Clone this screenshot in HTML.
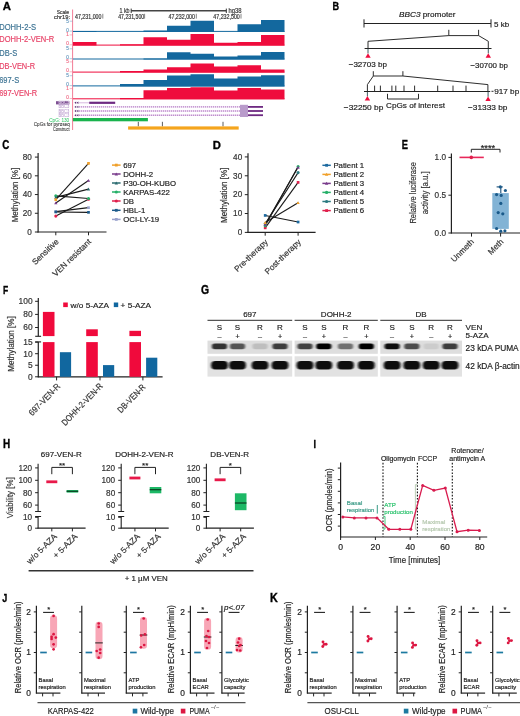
<!DOCTYPE html>
<html><head><meta charset="utf-8"><style>
html,body{margin:0;padding:0;background:#fff;}
svg{display:block;font-family:"Liberation Sans", sans-serif;filter:blur(0.4px);}
</style></head><body>
<svg width="520" height="716" viewBox="0 0 520 716">
<rect width="520" height="716" fill="#fff"/>
<text x="2.80" y="9.50" font-size="11.63" font-weight="bold" fill="#000" stroke="#000" stroke-width="0.35" textLength="8.20" lengthAdjust="spacingAndGlyphs">A</text>
<text x="69.00" y="13.54" font-size="6.2" fill="#333" stroke="#333" stroke-width="0.18" text-anchor="end" textLength="12.30" lengthAdjust="spacingAndGlyphs" >Scale</text>
<text x="70.00" y="18.64" font-size="6.2" fill="#333" stroke="#333" stroke-width="0.18" text-anchor="end" textLength="16.00" lengthAdjust="spacingAndGlyphs" >chr19:</text>
<line x1="72.60" y1="9.50" x2="72.60" y2="130.00" stroke="#f27d97" stroke-width="1" />
<text x="75.00" y="18.51" font-size="6.4" fill="#333" stroke="#333" stroke-width="0.18" textLength="26.50" lengthAdjust="spacingAndGlyphs" >47,231,000</text>
<line x1="102.80" y1="13.80" x2="102.80" y2="18.60" stroke="#333" stroke-width="0.6" />
<text x="118.20" y="18.51" font-size="6.4" fill="#333" stroke="#333" stroke-width="0.18" textLength="26.00" lengthAdjust="spacingAndGlyphs" >47,231,500</text>
<line x1="144.60" y1="13.80" x2="144.60" y2="18.60" stroke="#333" stroke-width="0.6" />
<text x="168.50" y="18.51" font-size="6.4" fill="#333" stroke="#333" stroke-width="0.18" textLength="26.50" lengthAdjust="spacingAndGlyphs" >47,232,000</text>
<line x1="196.30" y1="13.80" x2="196.30" y2="18.60" stroke="#333" stroke-width="0.6" />
<text x="213.30" y="18.51" font-size="6.4" fill="#333" stroke="#333" stroke-width="0.18" textLength="26.50" lengthAdjust="spacingAndGlyphs" >47,232,500</text>
<line x1="241.00" y1="13.80" x2="241.00" y2="18.60" stroke="#333" stroke-width="0.6" />
<text x="129.60" y="12.81" font-size="6.4" fill="#333" stroke="#333" stroke-width="0.18" text-anchor="end" textLength="10.20" lengthAdjust="spacingAndGlyphs" >1 kb</text>
<line x1="131.20" y1="10.80" x2="226.30" y2="10.80" stroke="#444" stroke-width="1.4" />
<line x1="131.20" y1="8.60" x2="131.20" y2="13.00" stroke="#333" stroke-width="1" />
<line x1="226.30" y1="8.60" x2="226.30" y2="13.00" stroke="#333" stroke-width="1" />
<text x="228.50" y="12.81" font-size="6.4" fill="#333" stroke="#333" stroke-width="0.18" textLength="13.00" lengthAdjust="spacingAndGlyphs" >hg38</text>
<text x="-0.80" y="29.60" font-size="8.4" fill="#3f7595" stroke="#3f7595" stroke-width="0.18" textLength="36.80" lengthAdjust="spacingAndGlyphs" >DOHH-2-S</text>
<line x1="73.00" y1="31.40" x2="284.50" y2="31.40" stroke="#13689e" stroke-width="1" />
<path d="M73.00,31.90 L73.00,31.00 L96.50,31.00 L96.50,31.90 L120.00,31.90 L120.00,31.90 L143.50,31.90 L143.50,30.40 L167.00,30.40 L167.00,25.80 L190.50,25.80 L190.50,20.80 L214.00,20.80 L214.00,31.90 L237.50,31.90 L237.50,24.20 L261.00,24.20 L261.00,20.10 L284.50,20.10 L284.50,31.90 Z" fill="#13689e" stroke="none" stroke-width="1" />
<text x="68.80" y="22.79" font-size="4.6" fill="#6a9cc0" stroke="#6a9cc0" stroke-width="0.18" text-anchor="end" >5</text>
<text x="68.80" y="31.69" font-size="4.6" fill="#6a9cc0" stroke="#6a9cc0" stroke-width="0.18" text-anchor="end" >0</text>
<line x1="69.60" y1="21.20" x2="72.60" y2="21.20" stroke="#6a9cc0" stroke-width="0.5" />
<line x1="69.60" y1="31.10" x2="72.60" y2="31.10" stroke="#6a9cc0" stroke-width="0.5" />
<text x="-0.80" y="42.30" font-size="8.4" fill="#e8466a" stroke="#e8466a" stroke-width="0.18" textLength="55.00" lengthAdjust="spacingAndGlyphs" >DOHH-2-VEN-R</text>
<line x1="73.00" y1="45.10" x2="284.50" y2="45.10" stroke="#ef0c3d" stroke-width="1" />
<path d="M73.00,45.60 L73.00,42.00 L96.50,42.00 L96.50,45.60 L120.00,45.60 L120.00,44.20 L143.50,44.20 L143.50,37.20 L167.00,37.20 L167.00,39.80 L190.50,39.80 L190.50,34.00 L214.00,34.00 L214.00,42.70 L237.50,42.70 L237.50,41.90 L261.00,41.90 L261.00,35.10 L284.50,35.10 L284.50,45.60 Z" fill="#ef0c3d" stroke="none" stroke-width="1" />
<text x="68.80" y="36.49" font-size="4.6" fill="#f0708a" stroke="#f0708a" stroke-width="0.18" text-anchor="end" >1</text>
<text x="68.80" y="45.39" font-size="4.6" fill="#f0708a" stroke="#f0708a" stroke-width="0.18" text-anchor="end" >0</text>
<line x1="69.60" y1="34.90" x2="72.60" y2="34.90" stroke="#f0708a" stroke-width="0.5" />
<line x1="69.60" y1="44.80" x2="72.60" y2="44.80" stroke="#f0708a" stroke-width="0.5" />
<text x="-0.80" y="55.70" font-size="8.4" fill="#3f7595" stroke="#3f7595" stroke-width="0.18" textLength="18.00" lengthAdjust="spacingAndGlyphs" >DB-S</text>
<line x1="73.00" y1="59.00" x2="284.50" y2="59.00" stroke="#13689e" stroke-width="1" />
<path d="M73.00,59.50 L73.00,59.50 L96.50,59.50 L96.50,59.50 L120.00,59.50 L120.00,59.50 L143.50,59.50 L143.50,58.50 L167.00,58.50 L167.00,52.30 L190.50,52.30 L190.50,53.80 L214.00,53.80 L214.00,56.50 L237.50,56.50 L237.50,55.50 L261.00,55.50 L261.00,51.90 L284.50,51.90 L284.50,59.50 Z" fill="#13689e" stroke="none" stroke-width="1" />
<text x="68.80" y="50.39" font-size="4.6" fill="#6a9cc0" stroke="#6a9cc0" stroke-width="0.18" text-anchor="end" >5</text>
<text x="68.80" y="59.29" font-size="4.6" fill="#6a9cc0" stroke="#6a9cc0" stroke-width="0.18" text-anchor="end" >0</text>
<line x1="69.60" y1="48.80" x2="72.60" y2="48.80" stroke="#6a9cc0" stroke-width="0.5" />
<line x1="69.60" y1="58.70" x2="72.60" y2="58.70" stroke="#6a9cc0" stroke-width="0.5" />
<text x="-0.80" y="69.00" font-size="8.4" fill="#e8466a" stroke="#e8466a" stroke-width="0.18" textLength="35.80" lengthAdjust="spacingAndGlyphs" >DB-VEN-R</text>
<line x1="73.00" y1="72.10" x2="284.50" y2="72.10" stroke="#ef0c3d" stroke-width="1" />
<path d="M73.00,72.60 L73.00,72.60 L96.50,72.60 L96.50,72.60 L120.00,72.60 L120.00,71.00 L143.50,71.00 L143.50,69.50 L167.00,69.50 L167.00,67.20 L190.50,67.20 L190.50,63.40 L214.00,63.40 L214.00,66.50 L237.50,66.50 L237.50,65.30 L261.00,65.30 L261.00,69.40 L284.50,69.40 L284.50,72.60 Z" fill="#ef0c3d" stroke="none" stroke-width="1" />
<text x="68.80" y="63.49" font-size="4.6" fill="#f0708a" stroke="#f0708a" stroke-width="0.18" text-anchor="end" >5</text>
<text x="68.80" y="72.39" font-size="4.6" fill="#f0708a" stroke="#f0708a" stroke-width="0.18" text-anchor="end" >0</text>
<line x1="69.60" y1="61.90" x2="72.60" y2="61.90" stroke="#f0708a" stroke-width="0.5" />
<line x1="69.60" y1="71.80" x2="72.60" y2="71.80" stroke="#f0708a" stroke-width="0.5" />
<text x="-0.80" y="82.60" font-size="8.4" fill="#3f7595" stroke="#3f7595" stroke-width="0.18" textLength="20.00" lengthAdjust="spacingAndGlyphs" >697-S</text>
<line x1="73.00" y1="85.90" x2="284.50" y2="85.90" stroke="#13689e" stroke-width="1" />
<path d="M73.00,86.40 L73.00,86.40 L96.50,86.40 L96.50,86.40 L120.00,86.40 L120.00,84.00 L143.50,84.00 L143.50,80.00 L167.00,80.00 L167.00,75.50 L190.50,75.50 L190.50,74.30 L214.00,74.30 L214.00,78.40 L237.50,78.40 L237.50,76.60 L261.00,76.60 L261.00,75.30 L284.50,75.30 L284.50,86.40 Z" fill="#13689e" stroke="none" stroke-width="1" />
<text x="68.80" y="77.29" font-size="4.6" fill="#6a9cc0" stroke="#6a9cc0" stroke-width="0.18" text-anchor="end" >5</text>
<text x="68.80" y="86.19" font-size="4.6" fill="#6a9cc0" stroke="#6a9cc0" stroke-width="0.18" text-anchor="end" >0</text>
<line x1="69.60" y1="75.70" x2="72.60" y2="75.70" stroke="#6a9cc0" stroke-width="0.5" />
<line x1="69.60" y1="85.60" x2="72.60" y2="85.60" stroke="#6a9cc0" stroke-width="0.5" />
<text x="-0.80" y="96.20" font-size="8.4" fill="#e8466a" stroke="#e8466a" stroke-width="0.18" textLength="38.00" lengthAdjust="spacingAndGlyphs" >697-VEN-R</text>
<line x1="73.00" y1="98.80" x2="284.50" y2="98.80" stroke="#ef0c3d" stroke-width="1" />
<path d="M73.00,99.30 L73.00,99.30 L96.50,99.30 L96.50,99.30 L120.00,99.30 L120.00,97.90 L143.50,97.90 L143.50,90.20 L167.00,90.20 L167.00,88.00 L190.50,88.00 L190.50,87.30 L214.00,87.30 L214.00,90.60 L237.50,90.60 L237.50,88.00 L261.00,88.00 L261.00,89.40 L284.50,89.40 L284.50,99.30 Z" fill="#ef0c3d" stroke="none" stroke-width="1" />
<text x="68.80" y="90.19" font-size="4.6" fill="#f0708a" stroke="#f0708a" stroke-width="0.18" text-anchor="end" >1</text>
<text x="68.80" y="99.09" font-size="4.6" fill="#f0708a" stroke="#f0708a" stroke-width="0.18" text-anchor="end" >0</text>
<line x1="69.60" y1="88.60" x2="72.60" y2="88.60" stroke="#f0708a" stroke-width="0.5" />
<line x1="69.60" y1="98.50" x2="72.60" y2="98.50" stroke="#f0708a" stroke-width="0.5" />
<rect x="56.00" y="101.20" width="13.40" height="3.20" fill="#7d4f92" />
<text x="69.20" y="104.39" font-size="4.6" fill="#e8dcf0" stroke="#e8dcf0" stroke-width="0.05" text-anchor="end" textLength="10.60" lengthAdjust="spacingAndGlyphs" >BBC3</text>
<path d="M74.4,102.80 L76.2,101.60 L76.2,104.00 Z M76.6,102.80 L78.4,101.60 L78.4,104.00 Z" fill="#5a2a70" stroke="none" stroke-width="1" />
<line x1="79.00" y1="102.80" x2="89.20" y2="102.80" stroke="#d8b8e0" stroke-width="1.0" />
<rect x="89.20" y="101.70" width="26.00" height="2.20" fill="#6e2a82" />
<text x="69.20" y="108.49" font-size="4.6" fill="#b898cc" stroke="#b898cc" stroke-width="0.05" text-anchor="end" textLength="10.60" lengthAdjust="spacingAndGlyphs" >BBC3</text>
<path d="M74.4,106.90 L76.2,105.70 L76.2,108.10 Z M76.6,106.90 L78.4,105.70 L78.4,108.10 Z" fill="#5a2a70" stroke="none" stroke-width="1" />
<line x1="79.00" y1="106.90" x2="240.00" y2="106.90" stroke="#ecd0f0" stroke-width="1.4" />
<line x1="79.00" y1="106.90" x2="240.00" y2="106.90" stroke="#a878bc" stroke-width="1.0" stroke-dasharray="1.0 1.0"/>
<rect x="248.00" y="106.00" width="15.00" height="1.80" fill="#6e2a82" />
<text x="69.20" y="112.59" font-size="4.6" fill="#b898cc" stroke="#b898cc" stroke-width="0.05" text-anchor="end" textLength="10.60" lengthAdjust="spacingAndGlyphs" >BBC3</text>
<path d="M74.4,111.00 L76.2,109.80 L76.2,112.20 Z M76.6,111.00 L78.4,109.80 L78.4,112.20 Z" fill="#5a2a70" stroke="none" stroke-width="1" />
<line x1="79.00" y1="111.00" x2="240.00" y2="111.00" stroke="#ecd0f0" stroke-width="1.4" />
<line x1="79.00" y1="111.00" x2="240.00" y2="111.00" stroke="#a878bc" stroke-width="1.0" stroke-dasharray="1.0 1.0"/>
<rect x="248.00" y="110.10" width="15.00" height="1.80" fill="#6e2a82" />
<text x="69.20" y="116.79" font-size="4.6" fill="#b898cc" stroke="#b898cc" stroke-width="0.05" text-anchor="end" textLength="10.60" lengthAdjust="spacingAndGlyphs" >BBC3</text>
<path d="M74.4,115.20 L76.2,114.00 L76.2,116.40 Z M76.6,115.20 L78.4,114.00 L78.4,116.40 Z" fill="#5a2a70" stroke="none" stroke-width="1" />
<line x1="79.00" y1="115.20" x2="240.00" y2="115.20" stroke="#ecd0f0" stroke-width="1.4" />
<line x1="79.00" y1="115.20" x2="240.00" y2="115.20" stroke="#a878bc" stroke-width="1.0" stroke-dasharray="1.0 1.0"/>
<rect x="248.00" y="114.30" width="15.00" height="1.80" fill="#6e2a82" />
<rect x="240.00" y="104.80" width="8.00" height="12.20" fill="#b99bcb" />
<text x="69.20" y="121.52" font-size="5.0" fill="#3cc86e" stroke="#3cc86e" stroke-width="0.05" text-anchor="end" textLength="20.00" lengthAdjust="spacingAndGlyphs" >CpG: 130</text>
<rect x="72.90" y="118.00" width="75.00" height="3.30" fill="#19b34d" />
<text x="69.80" y="125.89" font-size="4.9" fill="#333" stroke="#333" stroke-width="0.08" text-anchor="end" textLength="36.00" lengthAdjust="spacingAndGlyphs" >CpGs for pyroseq</text>
<text x="69.50" y="130.92" font-size="5.0" fill="#333" stroke="#333" stroke-width="0.08" text-anchor="end" textLength="16.50" lengthAdjust="spacingAndGlyphs" >Construct</text>
<line x1="138.30" y1="121.80" x2="138.30" y2="126.40" stroke="#333" stroke-width="0.8" />
<line x1="162.40" y1="121.80" x2="162.40" y2="126.40" stroke="#333" stroke-width="0.8" />
<line x1="223.00" y1="121.80" x2="223.00" y2="126.40" stroke="#333" stroke-width="0.8" />
<rect x="128.10" y="126.40" width="110.60" height="3.20" fill="#f5a51d" />
<text x="332.50" y="9.50" font-size="11.63" font-weight="bold" fill="#000" stroke="#000" stroke-width="0.35" textLength="6.60" lengthAdjust="spacingAndGlyphs">B</text>
<text x="399" y="17.1" font-size="8" fill="#222" stroke="#222" stroke-width="0.18" textLength="56.6" lengthAdjust="spacingAndGlyphs"><tspan font-style="italic">BBC3</tspan> promoter</text>
<line x1="364.00" y1="23.50" x2="491.00" y2="23.50" stroke="#222" stroke-width="1.0" />
<line x1="364.00" y1="19.30" x2="364.00" y2="27.50" stroke="#222" stroke-width="1.0" />
<line x1="491.00" y1="19.30" x2="491.00" y2="27.50" stroke="#222" stroke-width="1.0" />
<text x="494.00" y="26.96" font-size="8" fill="#222" stroke="#222" stroke-width="0.18" >5 kb</text>
<line x1="364.60" y1="48.50" x2="491.50" y2="48.50" stroke="#222" stroke-width="1.0" />
<line x1="368.00" y1="48.50" x2="368.00" y2="53.40" stroke="#2a4a50" stroke-width="0.9" />
<line x1="488.30" y1="48.50" x2="488.30" y2="53.40" stroke="#2a4a50" stroke-width="0.9" />
<path d="M368,48.5 L368,41.3 L448.8,35.6 L478.6,35.6 L488.3,41.3 L488.3,48.5" fill="none" stroke="#222" stroke-width="0.95" />
<line x1="448.80" y1="29.80" x2="448.80" y2="35.60" stroke="#222" stroke-width="0.95" />
<line x1="478.60" y1="29.80" x2="478.60" y2="35.60" stroke="#222" stroke-width="0.95" />
<path d="M365.30,57.80 L368.00,53.20 L370.70,57.80 Z" fill="#ef0c3d" stroke="none" stroke-width="1" />
<path d="M485.60,57.80 L488.30,53.20 L491.00,57.80 Z" fill="#ef0c3d" stroke="none" stroke-width="1" />
<text x="348.70" y="67.36" font-size="8" fill="#222" stroke="#222" stroke-width="0.18" textLength="38.30" lengthAdjust="spacingAndGlyphs" >&#8722;32703 bp</text>
<text x="470.40" y="67.76" font-size="8" fill="#222" stroke="#222" stroke-width="0.18" textLength="37.60" lengthAdjust="spacingAndGlyphs" >&#8722;30700 bp</text>
<line x1="373.30" y1="71.20" x2="373.30" y2="76.00" stroke="#222" stroke-width="0.95" />
<line x1="402.90" y1="71.20" x2="402.90" y2="76.00" stroke="#222" stroke-width="0.95" />
<path d="M367.4,91.5 L367.4,84.6 L373.3,76 L402.9,76 L487.9,84.6 L487.9,91.5" fill="none" stroke="#222" stroke-width="0.95" />
<line x1="367.40" y1="91.50" x2="367.40" y2="96.40" stroke="#2a4a50" stroke-width="0.9" />
<line x1="488.10" y1="91.50" x2="488.10" y2="96.80" stroke="#2a4a50" stroke-width="0.9" />
<line x1="364.00" y1="91.50" x2="490.20" y2="91.50" stroke="#222" stroke-width="1.0" />
<line x1="374.60" y1="85.60" x2="374.60" y2="91.30" stroke="#222" stroke-width="0.95" />
<line x1="380.40" y1="85.60" x2="380.40" y2="91.30" stroke="#222" stroke-width="0.95" />
<line x1="391.90" y1="85.60" x2="391.90" y2="91.30" stroke="#222" stroke-width="0.95" />
<line x1="395.80" y1="85.60" x2="395.80" y2="91.30" stroke="#222" stroke-width="0.95" />
<line x1="404.00" y1="85.60" x2="404.00" y2="91.30" stroke="#222" stroke-width="0.95" />
<line x1="414.60" y1="85.60" x2="414.60" y2="91.30" stroke="#222" stroke-width="0.95" />
<line x1="437.70" y1="85.60" x2="437.70" y2="91.30" stroke="#222" stroke-width="0.95" />
<line x1="453.00" y1="85.60" x2="453.00" y2="91.30" stroke="#222" stroke-width="0.95" />
<line x1="466.00" y1="85.60" x2="466.00" y2="91.30" stroke="#222" stroke-width="0.95" />
<line x1="491.50" y1="91.30" x2="493.50" y2="91.30" stroke="#222" stroke-width="0.95" />
<text x="494.20" y="94.06" font-size="8" fill="#222" stroke="#222" stroke-width="0.18" textLength="25.00" lengthAdjust="spacingAndGlyphs" >917 bp</text>
<path d="M364.70,100.40 L367.40,96.00 L370.10,100.40 Z" fill="#ef0c3d" stroke="none" stroke-width="1" />
<path d="M485.40,100.90 L488.10,96.40 L490.80,100.90 Z" fill="#ef0c3d" stroke="none" stroke-width="1" />
<path d="M387.5,93.8 L387.5,99 L418.5,99 L418.5,93.8" fill="none" stroke="#222" stroke-width="0.95" />
<text x="343.80" y="110.46" font-size="8" fill="#222" stroke="#222" stroke-width="0.18" textLength="39.50" lengthAdjust="spacingAndGlyphs" >&#8722;32250 bp</text>
<text x="386.00" y="108.36" font-size="8" fill="#222" stroke="#222" stroke-width="0.18" textLength="59.00" lengthAdjust="spacingAndGlyphs" >CpGs of interest</text>
<text x="468.00" y="110.46" font-size="8" fill="#222" stroke="#222" stroke-width="0.18" textLength="39.50" lengthAdjust="spacingAndGlyphs" >&#8722;31333 bp</text>
<text x="2.20" y="149.00" font-size="11.92" font-weight="bold" fill="#000" stroke="#000" stroke-width="0.35" textLength="7.10" lengthAdjust="spacingAndGlyphs">C</text>
<line x1="38.10" y1="153.10" x2="38.10" y2="232.50" stroke="#222" stroke-width="1.2" />
<line x1="37.60" y1="232.00" x2="106.50" y2="232.00" stroke="#222" stroke-width="1.2" />
<line x1="34.90" y1="232.00" x2="38.10" y2="232.00" stroke="#222" stroke-width="1" />
<text x="31.80" y="234.83" font-size="8.2" fill="#333" stroke="#333" stroke-width="0.18" text-anchor="end" >0</text>
<line x1="34.90" y1="213.27" x2="38.10" y2="213.27" stroke="#222" stroke-width="1" />
<text x="31.80" y="216.10" font-size="8.2" fill="#333" stroke="#333" stroke-width="0.18" text-anchor="end" >20</text>
<line x1="34.90" y1="194.55" x2="38.10" y2="194.55" stroke="#222" stroke-width="1" />
<text x="31.80" y="197.38" font-size="8.2" fill="#333" stroke="#333" stroke-width="0.18" text-anchor="end" >40</text>
<line x1="34.90" y1="175.82" x2="38.10" y2="175.82" stroke="#222" stroke-width="1" />
<text x="31.80" y="178.65" font-size="8.2" fill="#333" stroke="#333" stroke-width="0.18" text-anchor="end" >60</text>
<line x1="34.90" y1="157.10" x2="38.10" y2="157.10" stroke="#222" stroke-width="1" />
<text x="31.80" y="159.93" font-size="8.2" fill="#333" stroke="#333" stroke-width="0.18" text-anchor="end" >80</text>
<line x1="55.80" y1="232.00" x2="55.80" y2="235.30" stroke="#222" stroke-width="1" />
<line x1="88.50" y1="232.00" x2="88.50" y2="235.30" stroke="#222" stroke-width="1" />
<text x="14.60" y="197.97" font-size="8.6" fill="#333" stroke="#333" stroke-width="0.18" text-anchor="middle" textLength="54.70" lengthAdjust="spacingAndGlyphs" transform="rotate(-90 14.60 195.00)" >Methylation [%]</text>
<text x="57.30" y="243.03" font-size="8.2" fill="#333" stroke="#333" stroke-width="0.18" text-anchor="end" transform="rotate(-44 57.30 240.20)" >Sensitive</text>
<text x="89.80" y="243.03" font-size="8.2" fill="#333" stroke="#333" stroke-width="0.18" text-anchor="end" transform="rotate(-44 89.80 240.20)" >VEN resistant</text>
<line x1="55.80" y1="199.70" x2="88.50" y2="163.37" stroke="#1a1a1a" stroke-width="1.1" />
<line x1="55.80" y1="202.97" x2="88.50" y2="180.50" stroke="#1a1a1a" stroke-width="1.1" />
<line x1="55.80" y1="197.36" x2="88.50" y2="189.12" stroke="#1a1a1a" stroke-width="1.1" />
<line x1="55.80" y1="195.86" x2="88.50" y2="198.48" stroke="#1a1a1a" stroke-width="1.1" />
<line x1="55.80" y1="216.08" x2="88.50" y2="199.23" stroke="#1a1a1a" stroke-width="1.1" />
<line x1="55.80" y1="211.96" x2="88.50" y2="212.34" stroke="#1a1a1a" stroke-width="1.1" />
<line x1="55.80" y1="211.59" x2="88.50" y2="207.66" stroke="#1a1a1a" stroke-width="1.1" />
<rect x="54.45" y="210.24" width="2.70" height="2.70" fill="#9aa2cc" />
<rect x="87.15" y="206.31" width="2.70" height="2.70" fill="#9aa2cc" />
<rect x="54.45" y="210.61" width="2.70" height="2.70" fill="#1d5b8a" />
<rect x="87.15" y="210.99" width="2.70" height="2.70" fill="#1d5b8a" />
<circle cx="55.80" cy="216.08" r="1.55" fill="#e0204c" />
<circle cx="88.50" cy="199.23" r="1.55" fill="#e0204c" />
<circle cx="55.80" cy="195.86" r="1.55" fill="#26b069" />
<circle cx="88.50" cy="198.48" r="1.55" fill="#26b069" />
<path d="M54.15,198.71 L55.80,195.81 L57.45,198.71 Z" fill="#2b6b70" stroke="none" stroke-width="1" />
<path d="M86.85,190.47 L88.50,187.57 L90.15,190.47 Z" fill="#2b6b70" stroke="none" stroke-width="1" />
<path d="M54.15,204.32 L55.80,201.42 L57.45,204.32 Z" fill="#7a3c8c" stroke="none" stroke-width="1" />
<path d="M86.85,181.85 L88.50,178.95 L90.15,181.85 Z" fill="#7a3c8c" stroke="none" stroke-width="1" />
<rect x="54.45" y="198.35" width="2.70" height="2.70" fill="#f0a02a" />
<rect x="87.15" y="162.02" width="2.70" height="2.70" fill="#f0a02a" />
<line x1="112.00" y1="165.10" x2="120.60" y2="165.10" stroke="#f0a02a" stroke-width="1.5" />
<rect x="114.90" y="163.70" width="2.80" height="2.80" fill="#f0a02a" />
<text x="123.20" y="167.79" font-size="7.8" fill="#222" stroke="#222" stroke-width="0.18" >697</text>
<line x1="112.00" y1="174.00" x2="120.60" y2="174.00" stroke="#7a3c8c" stroke-width="1.5" />
<path d="M114.60,175.40 L116.30,172.40 L118.00,175.40 Z" fill="#7a3c8c" stroke="none" stroke-width="1" />
<text x="123.20" y="176.69" font-size="7.8" fill="#222" stroke="#222" stroke-width="0.18" >DOHH-2</text>
<line x1="112.00" y1="183.00" x2="120.60" y2="183.00" stroke="#2b6b70" stroke-width="1.5" />
<path d="M114.60,184.40 L116.30,181.40 L118.00,184.40 Z" fill="#2b6b70" stroke="none" stroke-width="1" />
<text x="123.20" y="185.69" font-size="7.8" fill="#222" stroke="#222" stroke-width="0.18" >P30-OH-KUBO</text>
<line x1="112.00" y1="192.00" x2="120.60" y2="192.00" stroke="#26b069" stroke-width="1.5" />
<circle cx="116.30" cy="192.00" r="1.5999999999999999" fill="#26b069" />
<text x="123.20" y="194.69" font-size="7.8" fill="#222" stroke="#222" stroke-width="0.18" >KARPAS-422</text>
<line x1="112.00" y1="201.00" x2="120.60" y2="201.00" stroke="#e0204c" stroke-width="1.5" />
<circle cx="116.30" cy="201.00" r="1.5999999999999999" fill="#e0204c" />
<text x="123.20" y="203.69" font-size="7.8" fill="#222" stroke="#222" stroke-width="0.18" >DB</text>
<line x1="112.00" y1="210.30" x2="120.60" y2="210.30" stroke="#1d5b8a" stroke-width="1.5" />
<rect x="114.90" y="208.90" width="2.80" height="2.80" fill="#1d5b8a" />
<text x="123.20" y="212.99" font-size="7.8" fill="#222" stroke="#222" stroke-width="0.18" >HBL-1</text>
<line x1="112.00" y1="219.40" x2="120.60" y2="219.40" stroke="#9aa2cc" stroke-width="1.5" />
<rect x="114.90" y="218.00" width="2.80" height="2.80" fill="#9aa2cc" />
<text x="123.20" y="222.09" font-size="7.8" fill="#222" stroke="#222" stroke-width="0.18" >OCI-LY-19</text>
<text x="212.80" y="149.20" font-size="11.77" font-weight="bold" fill="#000" stroke="#000" stroke-width="0.35" textLength="8.10" lengthAdjust="spacingAndGlyphs">D</text>
<line x1="248.00" y1="153.30" x2="248.00" y2="232.90" stroke="#222" stroke-width="1.2" />
<line x1="247.50" y1="232.40" x2="315.60" y2="232.40" stroke="#222" stroke-width="1.2" />
<line x1="244.80" y1="232.40" x2="248.00" y2="232.40" stroke="#222" stroke-width="1" />
<text x="242.20" y="235.23" font-size="8.2" fill="#333" stroke="#333" stroke-width="0.18" text-anchor="end" >0</text>
<line x1="244.80" y1="213.53" x2="248.00" y2="213.53" stroke="#222" stroke-width="1" />
<text x="242.20" y="216.36" font-size="8.2" fill="#333" stroke="#333" stroke-width="0.18" text-anchor="end" >10</text>
<line x1="244.80" y1="194.66" x2="248.00" y2="194.66" stroke="#222" stroke-width="1" />
<text x="242.20" y="197.49" font-size="8.2" fill="#333" stroke="#333" stroke-width="0.18" text-anchor="end" >20</text>
<line x1="244.80" y1="175.79" x2="248.00" y2="175.79" stroke="#222" stroke-width="1" />
<text x="242.20" y="178.62" font-size="8.2" fill="#333" stroke="#333" stroke-width="0.18" text-anchor="end" >30</text>
<line x1="244.80" y1="156.92" x2="248.00" y2="156.92" stroke="#222" stroke-width="1" />
<text x="242.20" y="159.75" font-size="8.2" fill="#333" stroke="#333" stroke-width="0.18" text-anchor="end" >40</text>
<line x1="265.20" y1="232.40" x2="265.20" y2="235.70" stroke="#222" stroke-width="1" />
<line x1="298.10" y1="232.40" x2="298.10" y2="235.70" stroke="#222" stroke-width="1" />
<text x="224.40" y="198.27" font-size="8.6" fill="#333" stroke="#333" stroke-width="0.18" text-anchor="middle" textLength="55.40" lengthAdjust="spacingAndGlyphs" transform="rotate(-90 224.40 195.30)" >Methylation [%]</text>
<text x="266.40" y="243.33" font-size="8.2" fill="#333" stroke="#333" stroke-width="0.18" text-anchor="end" transform="rotate(-44 266.40 240.50)" >Pre-therapy</text>
<text x="299.40" y="243.33" font-size="8.2" fill="#333" stroke="#333" stroke-width="0.18" text-anchor="end" transform="rotate(-44 299.40 240.50)" >Post-therapy</text>
<line x1="265.20" y1="215.42" x2="298.10" y2="222.02" stroke="#1a1a1a" stroke-width="1.1" />
<line x1="265.20" y1="222.59" x2="298.10" y2="202.77" stroke="#1a1a1a" stroke-width="1.1" />
<line x1="265.20" y1="224.47" x2="298.10" y2="167.30" stroke="#1a1a1a" stroke-width="1.1" />
<line x1="265.20" y1="225.80" x2="298.10" y2="166.54" stroke="#1a1a1a" stroke-width="1.1" />
<line x1="265.20" y1="223.72" x2="298.10" y2="172.58" stroke="#1a1a1a" stroke-width="1.1" />
<line x1="265.20" y1="227.87" x2="298.10" y2="182.39" stroke="#1a1a1a" stroke-width="1.1" />
<rect x="263.85" y="226.52" width="2.70" height="2.70" fill="#e0204c" />
<rect x="296.75" y="181.04" width="2.70" height="2.70" fill="#e0204c" />
<circle cx="265.20" cy="223.72" r="1.55" fill="#2b7a80" />
<circle cx="298.10" cy="172.58" r="1.55" fill="#2b7a80" />
<circle cx="265.20" cy="225.80" r="1.55" fill="#26b069" />
<circle cx="298.10" cy="166.54" r="1.55" fill="#26b069" />
<path d="M263.55,225.82 L265.20,222.92 L266.85,225.82 Z" fill="#7a3c8c" stroke="none" stroke-width="1" />
<path d="M296.45,168.65 L298.10,165.75 L299.75,168.65 Z" fill="#7a3c8c" stroke="none" stroke-width="1" />
<path d="M263.55,223.94 L265.20,221.04 L266.85,223.94 Z" fill="#f0a02a" stroke="none" stroke-width="1" />
<path d="M296.45,204.12 L298.10,201.22 L299.75,204.12 Z" fill="#f0a02a" stroke="none" stroke-width="1" />
<rect x="263.85" y="214.07" width="2.70" height="2.70" fill="#1d6aa0" />
<rect x="296.75" y="220.67" width="2.70" height="2.70" fill="#1d6aa0" />
<line x1="322.40" y1="165.30" x2="330.80" y2="165.30" stroke="#1d6aa0" stroke-width="1.5" />
<rect x="325.20" y="163.90" width="2.80" height="2.80" fill="#1d6aa0" />
<text x="333.40" y="167.99" font-size="7.8" fill="#222" stroke="#222" stroke-width="0.18" >Patient 1</text>
<line x1="322.40" y1="174.40" x2="330.80" y2="174.40" stroke="#f0a02a" stroke-width="1.5" />
<path d="M324.90,175.80 L326.60,172.80 L328.30,175.80 Z" fill="#f0a02a" stroke="none" stroke-width="1" />
<text x="333.40" y="177.09" font-size="7.8" fill="#222" stroke="#222" stroke-width="0.18" >Patient 2</text>
<line x1="322.40" y1="183.40" x2="330.80" y2="183.40" stroke="#7a3c8c" stroke-width="1.5" />
<path d="M324.90,184.80 L326.60,181.80 L328.30,184.80 Z" fill="#7a3c8c" stroke="none" stroke-width="1" />
<text x="333.40" y="186.09" font-size="7.8" fill="#222" stroke="#222" stroke-width="0.18" >Patient 3</text>
<line x1="322.40" y1="192.40" x2="330.80" y2="192.40" stroke="#26b069" stroke-width="1.5" />
<circle cx="326.60" cy="192.40" r="1.5999999999999999" fill="#26b069" />
<text x="333.40" y="195.09" font-size="7.8" fill="#222" stroke="#222" stroke-width="0.18" >Patient 4</text>
<line x1="322.40" y1="201.50" x2="330.80" y2="201.50" stroke="#2b7a80" stroke-width="1.5" />
<circle cx="326.60" cy="201.50" r="1.5999999999999999" fill="#2b7a80" />
<text x="333.40" y="204.19" font-size="7.8" fill="#222" stroke="#222" stroke-width="0.18" >Patient 5</text>
<line x1="322.40" y1="210.60" x2="330.80" y2="210.60" stroke="#e0204c" stroke-width="1.5" />
<rect x="325.20" y="209.20" width="2.80" height="2.80" fill="#e0204c" />
<text x="333.40" y="213.29" font-size="7.8" fill="#222" stroke="#222" stroke-width="0.18" >Patient 6</text>
<text x="401.80" y="149.40" font-size="12.21" font-weight="bold" fill="#000" stroke="#000" stroke-width="0.35" textLength="6.20" lengthAdjust="spacingAndGlyphs">E</text>
<line x1="451.40" y1="153.50" x2="451.40" y2="233.50" stroke="#222" stroke-width="1.2" />
<line x1="450.90" y1="233.00" x2="520.00" y2="233.00" stroke="#222" stroke-width="1.2" />
<line x1="448.40" y1="233.00" x2="451.40" y2="233.00" stroke="#222" stroke-width="1" />
<text x="446.00" y="235.83" font-size="8.2" fill="#333" stroke="#333" stroke-width="0.18" text-anchor="end" >0.0</text>
<line x1="448.40" y1="195.20" x2="451.40" y2="195.20" stroke="#222" stroke-width="1" />
<text x="446.00" y="198.03" font-size="8.2" fill="#333" stroke="#333" stroke-width="0.18" text-anchor="end" >0.5</text>
<line x1="448.40" y1="157.40" x2="451.40" y2="157.40" stroke="#222" stroke-width="1" />
<text x="446.00" y="160.23" font-size="8.2" fill="#333" stroke="#333" stroke-width="0.18" text-anchor="end" >1.0</text>
<line x1="471.50" y1="233.00" x2="471.50" y2="236.60" stroke="#222" stroke-width="1" />
<line x1="500.60" y1="233.00" x2="500.60" y2="236.60" stroke="#222" stroke-width="1" />
<text x="412.60" y="195.77" font-size="8.6" fill="#333" stroke="#333" stroke-width="0.18" text-anchor="middle" textLength="61.60" lengthAdjust="spacingAndGlyphs" transform="rotate(-90 412.60 192.80)" >Relative luciferase</text>
<text x="425.50" y="195.77" font-size="8.6" fill="#333" stroke="#333" stroke-width="0.18" text-anchor="middle" textLength="42.80" lengthAdjust="spacingAndGlyphs" transform="rotate(-90 425.50 192.80)" >activity [a.u.]</text>
<text x="472.60" y="243.13" font-size="8.2" fill="#333" stroke="#333" stroke-width="0.18" text-anchor="end" transform="rotate(-45 472.60 240.30)" >Unmeth</text>
<text x="502.00" y="243.13" font-size="8.2" fill="#333" stroke="#333" stroke-width="0.18" text-anchor="end" transform="rotate(-45 502.00 240.30)" >Meth</text>
<line x1="459.50" y1="157.40" x2="483.80" y2="157.40" stroke="#e8285a" stroke-width="1.6" />
<circle cx="471.30" cy="157.40" r="1.8" fill="#e0204c" />
<rect x="492.30" y="193.10" width="16.50" height="35.80" fill="#82b3d5" />
<line x1="500.80" y1="193.10" x2="500.80" y2="186.90" stroke="#1a4f78" stroke-width="1.1" />
<line x1="496.60" y1="186.90" x2="502.80" y2="186.90" stroke="#1a4f78" stroke-width="1.1" />
<circle cx="500.30" cy="186.90" r="1.6" fill="#1a5a8a" />
<circle cx="505.40" cy="190.50" r="1.6" fill="#1a5a8a" />
<circle cx="496.60" cy="194.60" r="1.6" fill="#1a5a8a" />
<circle cx="501.20" cy="195.40" r="1.6" fill="#1a5a8a" />
<circle cx="500.80" cy="203.40" r="1.6" fill="#1a5a8a" />
<circle cx="498.20" cy="212.60" r="1.6" fill="#1a5a8a" />
<circle cx="502.80" cy="213.80" r="1.6" fill="#1a5a8a" />
<circle cx="496.60" cy="228.50" r="1.6" fill="#1a5a8a" />
<circle cx="500.80" cy="231.20" r="1.6" fill="#1a5a8a" />
<circle cx="504.90" cy="230.80" r="1.6" fill="#1a5a8a" />
<path d="M471.3,152.5 L471.3,149.3 L500.0,149.3 L500.0,152.5" fill="none" stroke="#222" stroke-width="1.0" />
<text x="488.00" y="150.70" font-size="9.0" fill="#222" stroke="#222" stroke-width="0.18" text-anchor="middle" textLength="14.50" lengthAdjust="spacingAndGlyphs" >****</text>
<text x="2.90" y="293.80" font-size="11.63" font-weight="bold" fill="#000" stroke="#000" stroke-width="0.35" textLength="5.20" lengthAdjust="spacingAndGlyphs">F</text>
<line x1="38.30" y1="298.00" x2="38.30" y2="336.30" stroke="#222" stroke-width="1.2" />
<line x1="38.30" y1="341.90" x2="38.30" y2="377.30" stroke="#222" stroke-width="1.2" />
<line x1="35.20" y1="336.30" x2="41.10" y2="336.30" stroke="#222" stroke-width="1.1" />
<line x1="35.20" y1="341.90" x2="41.10" y2="341.90" stroke="#222" stroke-width="1.1" />
<line x1="37.80" y1="376.80" x2="162.60" y2="376.80" stroke="#222" stroke-width="1.2" />
<line x1="35.10" y1="327.50" x2="38.30" y2="327.50" stroke="#222" stroke-width="1" />
<text x="32.60" y="330.40" font-size="8.4" fill="#333" stroke="#333" stroke-width="0.18" text-anchor="end" >60</text>
<line x1="35.10" y1="314.40" x2="38.30" y2="314.40" stroke="#222" stroke-width="1" />
<text x="32.60" y="317.30" font-size="8.4" fill="#333" stroke="#333" stroke-width="0.18" text-anchor="end" >80</text>
<line x1="35.10" y1="301.30" x2="38.30" y2="301.30" stroke="#222" stroke-width="1" />
<text x="32.60" y="304.20" font-size="8.4" fill="#333" stroke="#333" stroke-width="0.18" text-anchor="end" >100</text>
<line x1="35.10" y1="376.80" x2="38.30" y2="376.80" stroke="#222" stroke-width="1" />
<text x="32.60" y="379.70" font-size="8.4" fill="#333" stroke="#333" stroke-width="0.18" text-anchor="end" >0</text>
<line x1="35.10" y1="365.25" x2="38.30" y2="365.25" stroke="#222" stroke-width="1" />
<text x="32.60" y="368.15" font-size="8.4" fill="#333" stroke="#333" stroke-width="0.18" text-anchor="end" >5</text>
<line x1="35.10" y1="353.70" x2="38.30" y2="353.70" stroke="#222" stroke-width="1" />
<text x="32.60" y="356.60" font-size="8.4" fill="#333" stroke="#333" stroke-width="0.18" text-anchor="end" >10</text>
<line x1="35.10" y1="342.15" x2="38.30" y2="342.15" stroke="#222" stroke-width="1" />
<text x="32.60" y="345.05" font-size="8.4" fill="#333" stroke="#333" stroke-width="0.18" text-anchor="end" >15</text>
<line x1="56.60" y1="376.80" x2="56.60" y2="380.40" stroke="#222" stroke-width="1" />
<line x1="100.00" y1="376.80" x2="100.00" y2="380.40" stroke="#222" stroke-width="1" />
<line x1="142.90" y1="376.80" x2="142.90" y2="380.40" stroke="#222" stroke-width="1" />
<text x="10.70" y="346.97" font-size="8.6" fill="#333" stroke="#333" stroke-width="0.18" text-anchor="middle" textLength="55.30" lengthAdjust="spacingAndGlyphs" transform="rotate(-90 10.70 344.00)" >Methylation [%]</text>
<rect x="42.90" y="311.90" width="11.60" height="24.20" fill="#f00a3c" />
<rect x="42.90" y="342.10" width="11.60" height="34.70" fill="#f00a3c" />
<rect x="86.20" y="329.30" width="11.60" height="6.80" fill="#f00a3c" />
<rect x="86.20" y="342.10" width="11.60" height="34.70" fill="#f00a3c" />
<rect x="129.40" y="330.80" width="11.60" height="5.30" fill="#f00a3c" />
<rect x="129.40" y="342.10" width="11.60" height="34.70" fill="#f00a3c" />
<rect x="59.90" y="352.20" width="11.20" height="24.60" fill="#11679f" />
<rect x="103.00" y="365.10" width="11.20" height="11.70" fill="#11679f" />
<rect x="146.10" y="357.70" width="11.20" height="19.10" fill="#11679f" />
<rect x="63.20" y="302.50" width="4.60" height="4.60" fill="#f00a3c" />
<text x="70.60" y="307.56" font-size="8.0" fill="#222" stroke="#222" stroke-width="0.18" textLength="38.50" lengthAdjust="spacingAndGlyphs" >w/o 5-AZA</text>
<rect x="113.80" y="302.50" width="4.40" height="4.60" fill="#11679f" />
<text x="120.60" y="307.56" font-size="8.0" fill="#222" stroke="#222" stroke-width="0.18" textLength="30.40" lengthAdjust="spacingAndGlyphs" >+ 5-AZA</text>
<text x="58.60" y="387.74" font-size="8.8" fill="#333" stroke="#333" stroke-width="0.18" text-anchor="end" textLength="41.00" lengthAdjust="spacingAndGlyphs" transform="rotate(-46 58.60 384.70)" >697-VEN-R</text>
<text x="101.20" y="387.54" font-size="8.8" fill="#333" stroke="#333" stroke-width="0.18" text-anchor="end" textLength="55.00" lengthAdjust="spacingAndGlyphs" transform="rotate(-46 101.20 384.50)" >DOHH-2-VEN-R</text>
<text x="143.90" y="388.44" font-size="8.8" fill="#333" stroke="#333" stroke-width="0.18" text-anchor="end" textLength="36.00" lengthAdjust="spacingAndGlyphs" transform="rotate(-46 143.90 385.40)" >DB-VEN-R</text>
<text x="201.00" y="293.80" font-size="11.92" font-weight="bold" fill="#000" stroke="#000" stroke-width="0.35" textLength="8.10" lengthAdjust="spacingAndGlyphs">G</text>
<defs><filter id="bl" x="-30%" y="-80%" width="160%" height="260%"><feGaussianBlur stdDeviation="1.0 0.8"/></filter><filter id="bl2" x="-30%" y="-80%" width="160%" height="260%"><feGaussianBlur stdDeviation="0.8 0.7"/></filter></defs>
<text x="249.85" y="317.36" font-size="8.0" fill="#222" stroke="#222" stroke-width="0.18" text-anchor="middle" >697</text>
<line x1="207.50" y1="320.40" x2="292.20" y2="320.40" stroke="#555" stroke-width="1.2" />
<text x="219.50" y="329.56" font-size="8.0" fill="#222" stroke="#222" stroke-width="0.18" text-anchor="middle" >S</text>
<text x="219.50" y="338.88" font-size="7.2" fill="#222" stroke="#222" stroke-width="0.18" text-anchor="middle" >&#8211;</text>
<text x="237.50" y="329.56" font-size="8.0" fill="#222" stroke="#222" stroke-width="0.18" text-anchor="middle" >S</text>
<text x="237.50" y="338.88" font-size="7.2" fill="#222" stroke="#222" stroke-width="0.18" text-anchor="middle" >+</text>
<text x="260.00" y="329.56" font-size="8.0" fill="#222" stroke="#222" stroke-width="0.18" text-anchor="middle" >R</text>
<text x="260.00" y="338.88" font-size="7.2" fill="#222" stroke="#222" stroke-width="0.18" text-anchor="middle" >&#8211;</text>
<text x="280.00" y="329.56" font-size="8.0" fill="#222" stroke="#222" stroke-width="0.18" text-anchor="middle" >R</text>
<text x="280.00" y="338.88" font-size="7.2" fill="#222" stroke="#222" stroke-width="0.18" text-anchor="middle" >+</text>
<rect x="207.50" y="340.60" width="84.70" height="13.20" fill="#dedede" />
<rect x="207.50" y="356.30" width="84.70" height="20.30" fill="#e2e2e2" />
<rect x="211.90" y="343.6" width="15.2" height="5.6" rx="2.6" fill="rgb(48,48,48)" filter="url(#bl2)"/>
<rect x="211.10" y="361.0" width="16.8" height="8.6" rx="4.0" fill="#0e0e0e" filter="url(#bl2)"/>
<rect x="229.90" y="343.6" width="15.2" height="5.6" rx="2.6" fill="rgb(84,84,84)" filter="url(#bl2)"/>
<rect x="229.10" y="361.0" width="16.8" height="8.6" rx="4.0" fill="#0e0e0e" filter="url(#bl2)"/>
<rect x="252.40" y="343.6" width="15.2" height="5.6" rx="2.6" fill="rgb(190,190,190)" filter="url(#bl2)"/>
<rect x="251.60" y="361.0" width="16.8" height="8.6" rx="4.0" fill="#0e0e0e" filter="url(#bl2)"/>
<rect x="272.40" y="343.6" width="15.2" height="5.6" rx="2.6" fill="rgb(62,62,62)" filter="url(#bl2)"/>
<rect x="271.60" y="361.0" width="16.8" height="8.6" rx="4.0" fill="#0e0e0e" filter="url(#bl2)"/>
<text x="336.20" y="317.36" font-size="8.0" fill="#222" stroke="#222" stroke-width="0.18" text-anchor="middle" >DOHH-2</text>
<line x1="294.60" y1="320.40" x2="377.80" y2="320.40" stroke="#555" stroke-width="1.2" />
<text x="305.00" y="329.56" font-size="8.0" fill="#222" stroke="#222" stroke-width="0.18" text-anchor="middle" >S</text>
<text x="305.00" y="338.88" font-size="7.2" fill="#222" stroke="#222" stroke-width="0.18" text-anchor="middle" >&#8211;</text>
<text x="323.80" y="329.56" font-size="8.0" fill="#222" stroke="#222" stroke-width="0.18" text-anchor="middle" >S</text>
<text x="323.80" y="338.88" font-size="7.2" fill="#222" stroke="#222" stroke-width="0.18" text-anchor="middle" >+</text>
<text x="345.50" y="329.56" font-size="8.0" fill="#222" stroke="#222" stroke-width="0.18" text-anchor="middle" >R</text>
<text x="345.50" y="338.88" font-size="7.2" fill="#222" stroke="#222" stroke-width="0.18" text-anchor="middle" >&#8211;</text>
<text x="366.30" y="329.56" font-size="8.0" fill="#222" stroke="#222" stroke-width="0.18" text-anchor="middle" >R</text>
<text x="366.30" y="338.88" font-size="7.2" fill="#222" stroke="#222" stroke-width="0.18" text-anchor="middle" >+</text>
<rect x="294.60" y="340.60" width="83.20" height="13.20" fill="#dedede" />
<rect x="294.60" y="356.30" width="83.20" height="20.30" fill="#e2e2e2" />
<rect x="297.40" y="343.6" width="15.2" height="5.6" rx="2.6" fill="rgb(66,66,66)" filter="url(#bl2)"/>
<rect x="296.60" y="361.0" width="16.8" height="8.6" rx="4.0" fill="#0e0e0e" filter="url(#bl2)"/>
<rect x="316.20" y="343.6" width="15.2" height="5.6" rx="2.6" fill="rgb(6,6,6)" filter="url(#bl2)"/>
<rect x="315.40" y="361.0" width="16.8" height="8.6" rx="4.0" fill="#0e0e0e" filter="url(#bl2)"/>
<rect x="337.90" y="343.6" width="15.2" height="5.6" rx="2.6" fill="rgb(111,111,111)" filter="url(#bl2)"/>
<rect x="337.10" y="361.0" width="16.8" height="8.6" rx="4.0" fill="#0e0e0e" filter="url(#bl2)"/>
<rect x="358.70" y="343.6" width="15.2" height="5.6" rx="2.6" fill="rgb(6,6,6)" filter="url(#bl2)"/>
<rect x="357.90" y="361.0" width="16.8" height="8.6" rx="4.0" fill="#0e0e0e" filter="url(#bl2)"/>
<text x="421.15" y="317.36" font-size="8.0" fill="#222" stroke="#222" stroke-width="0.18" text-anchor="middle" >DB</text>
<line x1="380.30" y1="320.40" x2="462.00" y2="320.40" stroke="#555" stroke-width="1.2" />
<text x="392.10" y="329.56" font-size="8.0" fill="#222" stroke="#222" stroke-width="0.18" text-anchor="middle" >S</text>
<text x="392.10" y="338.88" font-size="7.2" fill="#222" stroke="#222" stroke-width="0.18" text-anchor="middle" >&#8211;</text>
<text x="411.80" y="329.56" font-size="8.0" fill="#222" stroke="#222" stroke-width="0.18" text-anchor="middle" >S</text>
<text x="411.80" y="338.88" font-size="7.2" fill="#222" stroke="#222" stroke-width="0.18" text-anchor="middle" >+</text>
<text x="431.20" y="329.56" font-size="8.0" fill="#222" stroke="#222" stroke-width="0.18" text-anchor="middle" >R</text>
<text x="431.20" y="338.88" font-size="7.2" fill="#222" stroke="#222" stroke-width="0.18" text-anchor="middle" >&#8211;</text>
<text x="450.00" y="329.56" font-size="8.0" fill="#222" stroke="#222" stroke-width="0.18" text-anchor="middle" >R</text>
<text x="450.00" y="338.88" font-size="7.2" fill="#222" stroke="#222" stroke-width="0.18" text-anchor="middle" >+</text>
<rect x="380.30" y="340.60" width="81.70" height="13.20" fill="#dedede" />
<rect x="380.30" y="356.30" width="81.70" height="20.30" fill="#e2e2e2" />
<rect x="384.50" y="343.6" width="15.2" height="5.6" rx="2.6" fill="rgb(11,11,11)" filter="url(#bl2)"/>
<rect x="383.70" y="361.0" width="16.8" height="8.6" rx="4.0" fill="#0e0e0e" filter="url(#bl2)"/>
<rect x="404.20" y="343.6" width="15.2" height="5.6" rx="2.6" fill="rgb(77,77,77)" filter="url(#bl2)"/>
<rect x="403.40" y="361.0" width="16.8" height="8.6" rx="4.0" fill="#0e0e0e" filter="url(#bl2)"/>
<rect x="423.60" y="343.6" width="15.2" height="5.6" rx="2.6" fill="rgb(204,204,204)" filter="url(#bl2)"/>
<rect x="422.80" y="361.0" width="16.8" height="8.6" rx="4.0" fill="#0e0e0e" filter="url(#bl2)"/>
<rect x="442.40" y="343.6" width="15.2" height="5.6" rx="2.6" fill="rgb(62,62,62)" filter="url(#bl2)"/>
<rect x="441.60" y="361.0" width="16.8" height="8.6" rx="4.0" fill="#0e0e0e" filter="url(#bl2)"/>
<text x="465.60" y="329.79" font-size="8.1" fill="#222" stroke="#222" stroke-width="0.18" >VEN</text>
<text x="465.60" y="337.79" font-size="8.1" fill="#222" stroke="#222" stroke-width="0.18" >5-AZA</text>
<text x="465.60" y="350.66" font-size="8.3" fill="#222" stroke="#222" stroke-width="0.18" >23 kDA PUMA</text>
<text x="465.60" y="368.66" font-size="8.3" fill="#222" stroke="#222" stroke-width="0.18" >42 kDA &#946;-actin</text>
<text x="2.90" y="447.60" font-size="12.06" font-weight="bold" fill="#000" stroke="#000" stroke-width="0.35" textLength="7.20" lengthAdjust="spacingAndGlyphs">H</text>
<text x="61.30" y="457.16" font-size="8.0" fill="#222" stroke="#222" stroke-width="0.18" text-anchor="middle" >697-VEN-R</text>
<line x1="38.10" y1="463.80" x2="38.10" y2="511.50" stroke="#222" stroke-width="1.1" />
<line x1="38.10" y1="516.50" x2="38.10" y2="528.40" stroke="#222" stroke-width="1.1" />
<line x1="35.10" y1="511.50" x2="41.10" y2="511.50" stroke="#222" stroke-width="1.0" />
<line x1="35.10" y1="516.50" x2="41.10" y2="516.50" stroke="#222" stroke-width="1.0" />
<line x1="37.60" y1="528.20" x2="85.60" y2="528.20" stroke="#222" stroke-width="1.2" />
<line x1="35.10" y1="505.10" x2="38.10" y2="505.10" stroke="#222" stroke-width="1" />
<text x="32.10" y="507.93" font-size="8.2" fill="#333" stroke="#333" stroke-width="0.18" text-anchor="end" >60</text>
<line x1="35.10" y1="492.70" x2="38.10" y2="492.70" stroke="#222" stroke-width="1" />
<text x="32.10" y="495.53" font-size="8.2" fill="#333" stroke="#333" stroke-width="0.18" text-anchor="end" >80</text>
<line x1="35.10" y1="480.30" x2="38.10" y2="480.30" stroke="#222" stroke-width="1" />
<text x="32.10" y="483.13" font-size="8.2" fill="#333" stroke="#333" stroke-width="0.18" text-anchor="end" >100</text>
<line x1="35.10" y1="467.90" x2="38.10" y2="467.90" stroke="#222" stroke-width="1" />
<text x="32.10" y="470.73" font-size="8.2" fill="#333" stroke="#333" stroke-width="0.18" text-anchor="end" >120</text>
<line x1="35.10" y1="517.30" x2="38.10" y2="517.30" stroke="#222" stroke-width="1" />
<text x="32.10" y="520.13" font-size="8.2" fill="#333" stroke="#333" stroke-width="0.18" text-anchor="end" >10</text>
<line x1="35.10" y1="528.20" x2="38.10" y2="528.20" stroke="#222" stroke-width="1" />
<text x="32.10" y="531.03" font-size="8.2" fill="#333" stroke="#333" stroke-width="0.18" text-anchor="end" >0</text>
<line x1="51.80" y1="528.20" x2="51.80" y2="531.40" stroke="#222" stroke-width="1" />
<line x1="72.40" y1="528.20" x2="72.40" y2="531.40" stroke="#222" stroke-width="1" />
<rect x="46.30" y="480.40" width="11.00" height="2.80" fill="#e8194a" />
<rect x="66.60" y="490.00" width="11.60" height="2.60" fill="#1db866" />
<line x1="66.60" y1="491.30" x2="78.20" y2="491.30" stroke="#0b3d20" stroke-width="1.2" />
<path d="M51.80,474.2 L51.80,467.4 L72.40,467.4 L72.40,474.2" fill="none" stroke="#222" stroke-width="1.0" />
<text x="62.10" y="467.76" font-size="8.0" fill="#222" stroke="#222" stroke-width="0.18" text-anchor="middle" >**</text>
<text x="55.40" y="537.86" font-size="8.3" fill="#333" stroke="#333" stroke-width="0.18" text-anchor="end" transform="rotate(-45 55.40 535.00)" >w/o 5-AZA</text>
<text x="76.00" y="537.86" font-size="8.3" fill="#333" stroke="#333" stroke-width="0.18" text-anchor="end" transform="rotate(-45 76.00 535.00)" >+ 5-AZA</text>
<text x="144.40" y="457.16" font-size="8.0" fill="#222" stroke="#222" stroke-width="0.18" text-anchor="middle" >DOHH-2-VEN-R</text>
<line x1="121.20" y1="463.80" x2="121.20" y2="511.50" stroke="#222" stroke-width="1.1" />
<line x1="121.20" y1="516.50" x2="121.20" y2="528.40" stroke="#222" stroke-width="1.1" />
<line x1="118.20" y1="511.50" x2="124.20" y2="511.50" stroke="#222" stroke-width="1.0" />
<line x1="118.20" y1="516.50" x2="124.20" y2="516.50" stroke="#222" stroke-width="1.0" />
<line x1="120.70" y1="528.20" x2="168.70" y2="528.20" stroke="#222" stroke-width="1.2" />
<line x1="118.20" y1="505.10" x2="121.20" y2="505.10" stroke="#222" stroke-width="1" />
<text x="115.20" y="507.93" font-size="8.2" fill="#333" stroke="#333" stroke-width="0.18" text-anchor="end" >60</text>
<line x1="118.20" y1="492.70" x2="121.20" y2="492.70" stroke="#222" stroke-width="1" />
<text x="115.20" y="495.53" font-size="8.2" fill="#333" stroke="#333" stroke-width="0.18" text-anchor="end" >80</text>
<line x1="118.20" y1="480.30" x2="121.20" y2="480.30" stroke="#222" stroke-width="1" />
<text x="115.20" y="483.13" font-size="8.2" fill="#333" stroke="#333" stroke-width="0.18" text-anchor="end" >100</text>
<line x1="118.20" y1="467.90" x2="121.20" y2="467.90" stroke="#222" stroke-width="1" />
<text x="115.20" y="470.73" font-size="8.2" fill="#333" stroke="#333" stroke-width="0.18" text-anchor="end" >120</text>
<line x1="118.20" y1="517.30" x2="121.20" y2="517.30" stroke="#222" stroke-width="1" />
<text x="115.20" y="520.13" font-size="8.2" fill="#333" stroke="#333" stroke-width="0.18" text-anchor="end" >10</text>
<line x1="118.20" y1="528.20" x2="121.20" y2="528.20" stroke="#222" stroke-width="1" />
<text x="115.20" y="531.03" font-size="8.2" fill="#333" stroke="#333" stroke-width="0.18" text-anchor="end" >0</text>
<line x1="134.90" y1="528.20" x2="134.90" y2="531.40" stroke="#222" stroke-width="1" />
<line x1="155.50" y1="528.20" x2="155.50" y2="531.40" stroke="#222" stroke-width="1" />
<rect x="129.40" y="476.60" width="11.00" height="2.80" fill="#e8194a" />
<rect x="149.70" y="487.00" width="11.60" height="6.30" fill="#1db866" />
<line x1="149.70" y1="489.70" x2="161.30" y2="489.70" stroke="#0b3d20" stroke-width="1.2" />
<path d="M134.90,474.2 L134.90,467.4 L155.50,467.4 L155.50,474.2" fill="none" stroke="#222" stroke-width="1.0" />
<text x="145.20" y="467.76" font-size="8.0" fill="#222" stroke="#222" stroke-width="0.18" text-anchor="middle" >**</text>
<text x="138.50" y="537.86" font-size="8.3" fill="#333" stroke="#333" stroke-width="0.18" text-anchor="end" transform="rotate(-45 138.50 535.00)" >w/o 5-AZA</text>
<text x="159.10" y="537.86" font-size="8.3" fill="#333" stroke="#333" stroke-width="0.18" text-anchor="end" transform="rotate(-45 159.10 535.00)" >+ 5-AZA</text>
<text x="229.70" y="457.16" font-size="8.0" fill="#222" stroke="#222" stroke-width="0.18" text-anchor="middle" >DB-VEN-R</text>
<line x1="206.40" y1="463.80" x2="206.40" y2="511.50" stroke="#222" stroke-width="1.1" />
<line x1="206.40" y1="516.50" x2="206.40" y2="528.40" stroke="#222" stroke-width="1.1" />
<line x1="203.40" y1="511.50" x2="209.40" y2="511.50" stroke="#222" stroke-width="1.0" />
<line x1="203.40" y1="516.50" x2="209.40" y2="516.50" stroke="#222" stroke-width="1.0" />
<line x1="205.90" y1="528.20" x2="253.90" y2="528.20" stroke="#222" stroke-width="1.2" />
<line x1="203.40" y1="505.10" x2="206.40" y2="505.10" stroke="#222" stroke-width="1" />
<text x="200.40" y="507.93" font-size="8.2" fill="#333" stroke="#333" stroke-width="0.18" text-anchor="end" >60</text>
<line x1="203.40" y1="492.70" x2="206.40" y2="492.70" stroke="#222" stroke-width="1" />
<text x="200.40" y="495.53" font-size="8.2" fill="#333" stroke="#333" stroke-width="0.18" text-anchor="end" >80</text>
<line x1="203.40" y1="480.30" x2="206.40" y2="480.30" stroke="#222" stroke-width="1" />
<text x="200.40" y="483.13" font-size="8.2" fill="#333" stroke="#333" stroke-width="0.18" text-anchor="end" >100</text>
<line x1="203.40" y1="467.90" x2="206.40" y2="467.90" stroke="#222" stroke-width="1" />
<text x="200.40" y="470.73" font-size="8.2" fill="#333" stroke="#333" stroke-width="0.18" text-anchor="end" >120</text>
<line x1="203.40" y1="517.30" x2="206.40" y2="517.30" stroke="#222" stroke-width="1" />
<text x="200.40" y="520.13" font-size="8.2" fill="#333" stroke="#333" stroke-width="0.18" text-anchor="end" >10</text>
<line x1="203.40" y1="528.20" x2="206.40" y2="528.20" stroke="#222" stroke-width="1" />
<text x="200.40" y="531.03" font-size="8.2" fill="#333" stroke="#333" stroke-width="0.18" text-anchor="end" >0</text>
<line x1="220.10" y1="528.20" x2="220.10" y2="531.40" stroke="#222" stroke-width="1" />
<line x1="240.70" y1="528.20" x2="240.70" y2="531.40" stroke="#222" stroke-width="1" />
<rect x="214.60" y="478.40" width="11.00" height="2.80" fill="#e8194a" />
<rect x="234.90" y="493.30" width="11.60" height="16.90" fill="#1db866" />
<line x1="234.90" y1="503.00" x2="246.50" y2="503.00" stroke="#0b3d20" stroke-width="1.2" />
<path d="M220.10,474.2 L220.10,467.4 L240.70,467.4 L240.70,474.2" fill="none" stroke="#222" stroke-width="1.0" />
<text x="230.40" y="467.76" font-size="8.0" fill="#222" stroke="#222" stroke-width="0.18" text-anchor="middle" >*</text>
<text x="223.70" y="537.86" font-size="8.3" fill="#333" stroke="#333" stroke-width="0.18" text-anchor="end" transform="rotate(-45 223.70 535.00)" >w/o 5-AZA</text>
<text x="244.30" y="537.86" font-size="8.3" fill="#333" stroke="#333" stroke-width="0.18" text-anchor="end" transform="rotate(-45 244.30 535.00)" >+ 5-AZA</text>
<text x="10.00" y="500.67" font-size="8.6" fill="#333" stroke="#333" stroke-width="0.18" text-anchor="middle" textLength="41.00" lengthAdjust="spacingAndGlyphs" transform="rotate(-90 10.00 497.70)" >Viability [%]</text>
<line x1="28.60" y1="570.80" x2="253.50" y2="570.80" stroke="#333" stroke-width="1.5" />
<text x="146.20" y="581.26" font-size="8.0" fill="#222" stroke="#222" stroke-width="0.18" text-anchor="middle" textLength="43.00" lengthAdjust="spacingAndGlyphs" >+ 1 &#181;M VEN</text>
<text x="313.40" y="447.50" font-size="10.90" font-weight="bold" fill="#000" stroke="#000" stroke-width="0.35" textLength="2.50" lengthAdjust="spacingAndGlyphs">I</text>
<line x1="340.60" y1="462.60" x2="340.60" y2="537.50" stroke="#222" stroke-width="1.2" />
<line x1="340.10" y1="537.00" x2="487.20" y2="537.00" stroke="#222" stroke-width="1.2" />
<line x1="337.80" y1="468.10" x2="340.60" y2="468.10" stroke="#222" stroke-width="1" />
<line x1="337.80" y1="479.70" x2="340.60" y2="479.70" stroke="#222" stroke-width="1" />
<line x1="337.80" y1="491.30" x2="340.60" y2="491.30" stroke="#222" stroke-width="1" />
<line x1="337.80" y1="502.90" x2="340.60" y2="502.90" stroke="#222" stroke-width="1" />
<line x1="337.80" y1="514.50" x2="340.60" y2="514.50" stroke="#222" stroke-width="1" />
<line x1="337.80" y1="526.10" x2="340.60" y2="526.10" stroke="#222" stroke-width="1" />
<line x1="340.60" y1="537.00" x2="340.60" y2="540.00" stroke="#222" stroke-width="1" />
<text x="340.60" y="550.37" font-size="8.6" fill="#222" stroke="#222" stroke-width="0.18" text-anchor="middle" >0</text>
<line x1="375.40" y1="537.00" x2="375.40" y2="540.00" stroke="#222" stroke-width="1" />
<text x="375.40" y="550.37" font-size="8.6" fill="#222" stroke="#222" stroke-width="0.18" text-anchor="middle" >20</text>
<line x1="410.20" y1="537.00" x2="410.20" y2="540.00" stroke="#222" stroke-width="1" />
<text x="410.20" y="550.37" font-size="8.6" fill="#222" stroke="#222" stroke-width="0.18" text-anchor="middle" >40</text>
<line x1="445.00" y1="537.00" x2="445.00" y2="540.00" stroke="#222" stroke-width="1" />
<text x="445.00" y="550.37" font-size="8.6" fill="#222" stroke="#222" stroke-width="0.18" text-anchor="middle" >60</text>
<line x1="479.80" y1="537.00" x2="479.80" y2="540.00" stroke="#222" stroke-width="1" />
<text x="479.80" y="550.37" font-size="8.6" fill="#222" stroke="#222" stroke-width="0.18" text-anchor="middle" >80</text>
<text x="414.50" y="562.51" font-size="9.3" fill="#222" stroke="#222" stroke-width="0.18" text-anchor="middle" textLength="51.40" lengthAdjust="spacingAndGlyphs" >Time [minutes]</text>
<text x="328.60" y="503.21" font-size="9.3" fill="#222" stroke="#222" stroke-width="0.18" text-anchor="middle" textLength="63.00" lengthAdjust="spacingAndGlyphs" transform="rotate(-90 328.60 500.00)" >OCR (pmoles/min)</text>
<line x1="383.00" y1="462.80" x2="383.00" y2="537.00" stroke="#111" stroke-width="1.1" stroke-dasharray="1.6 1.6"/>
<line x1="417.40" y1="462.80" x2="417.40" y2="537.00" stroke="#111" stroke-width="1.1" stroke-dasharray="1.6 1.6"/>
<line x1="452.30" y1="462.80" x2="452.30" y2="537.00" stroke="#111" stroke-width="1.1" stroke-dasharray="1.6 1.6"/>
<text x="380.90" y="460.52" font-size="7.0" fill="#222" stroke="#222" stroke-width="0.18" >Oligomycin</text>
<text x="418.00" y="460.52" font-size="7.0" fill="#222" stroke="#222" stroke-width="0.18" >FCCP</text>
<text x="467.50" y="452.92" font-size="7.0" fill="#222" stroke="#222" stroke-width="0.18" text-anchor="middle" >Rotenone/</text>
<text x="467.20" y="460.52" font-size="7.0" fill="#222" stroke="#222" stroke-width="0.18" text-anchor="middle" >antimycin A</text>
<text x="346.80" y="505.14" font-size="6.2" fill="#3a9a86" stroke="#3a9a86" stroke-width="0.18" >Basal</text>
<text x="346.80" y="511.94" font-size="6.2" fill="#3a9a86" stroke="#3a9a86" stroke-width="0.18" textLength="27.50" lengthAdjust="spacingAndGlyphs" >respiration</text>
<line x1="377.30" y1="505.00" x2="377.30" y2="513.60" stroke="#3a9a86" stroke-width="1" />
<text x="384.30" y="507.24" font-size="6.2" fill="#2ec36f" stroke="#2ec36f" stroke-width="0.18" >ATP</text>
<text x="384.30" y="513.54" font-size="6.2" fill="#2ec36f" stroke="#2ec36f" stroke-width="0.18" textLength="28.50" lengthAdjust="spacingAndGlyphs" >production</text>
<path d="M383.2,516.4 L385.0,516.4 L385.0,529.1 L383.2,529.1" fill="none" stroke="#2ec36f" stroke-width="0.9" />
<text x="422.30" y="524.34" font-size="6.2" fill="#b5c8ae" stroke="#b5c8ae" stroke-width="0.18" >Maximal</text>
<text x="422.30" y="530.84" font-size="6.2" fill="#b5c8ae" stroke="#b5c8ae" stroke-width="0.18" textLength="28.00" lengthAdjust="spacingAndGlyphs" >respiration</text>
<path d="M417.4,484.6 L415.4,484.6 L415.4,529.3 L417.4,529.3" fill="none" stroke="#b5c8ae" stroke-width="0.9" />
<path d="M342.8,516.9 L354.3,517.9 L366.0,517.9 L377.0,517.9 L388.8,529.3 L399.8,529.3 L410.8,529.3 L422.7,485.4 L433.9,490.3 L445.3,488.0 L457.0,531.7 L468.2,530.2 L479.4,530.4" fill="none" stroke="#d81b4e" stroke-width="1.3" />
<circle cx="342.80" cy="516.90" r="1.5" fill="#d81b4e" />
<circle cx="354.30" cy="517.90" r="1.5" fill="#d81b4e" />
<circle cx="366.00" cy="517.90" r="1.5" fill="#d81b4e" />
<circle cx="377.00" cy="517.90" r="1.5" fill="#d81b4e" />
<circle cx="388.80" cy="529.30" r="1.5" fill="#d81b4e" />
<circle cx="399.80" cy="529.30" r="1.5" fill="#d81b4e" />
<circle cx="410.80" cy="529.30" r="1.5" fill="#d81b4e" />
<circle cx="422.70" cy="485.40" r="1.5" fill="#d81b4e" />
<circle cx="433.90" cy="490.30" r="1.5" fill="#d81b4e" />
<circle cx="445.30" cy="488.00" r="1.5" fill="#d81b4e" />
<circle cx="457.00" cy="531.70" r="1.5" fill="#d81b4e" />
<circle cx="468.20" cy="530.20" r="1.5" fill="#d81b4e" />
<circle cx="479.40" cy="530.40" r="1.5" fill="#d81b4e" />
<text x="2.20" y="602.10" font-size="11.77" font-weight="bold" fill="#000" stroke="#000" stroke-width="0.35" textLength="5.00" lengthAdjust="spacingAndGlyphs">J</text>
<text x="17.50" y="650.50" font-size="9.0" fill="#222" stroke="#222" stroke-width="0.18" text-anchor="middle" textLength="91.60" lengthAdjust="spacingAndGlyphs" transform="rotate(-90 17.50 647.40)" >Relative OCR (pmoles/min)</text>
<text x="171.30" y="652.31" font-size="9.0" fill="#222" stroke="#222" stroke-width="0.18" text-anchor="middle" textLength="88.00" lengthAdjust="spacingAndGlyphs" transform="rotate(-90 171.30 649.20)" >Relative ECAR (mpH/min)</text>
<line x1="36.40" y1="605.80" x2="36.40" y2="693.60" stroke="#222" stroke-width="1.2" />
<line x1="35.90" y1="693.10" x2="60.40" y2="693.10" stroke="#222" stroke-width="1.2" />
<line x1="33.80" y1="672.80" x2="36.40" y2="672.80" stroke="#222" stroke-width="1" />
<line x1="33.80" y1="652.50" x2="36.40" y2="652.50" stroke="#222" stroke-width="1" />
<line x1="33.80" y1="632.20" x2="36.40" y2="632.20" stroke="#222" stroke-width="1" />
<line x1="33.80" y1="611.90" x2="36.40" y2="611.90" stroke="#222" stroke-width="1" />
<text x="30.80" y="696.00" font-size="8.4" fill="#222" stroke="#222" stroke-width="0.18" text-anchor="end" >0</text>
<text x="30.80" y="655.40" font-size="8.4" fill="#222" stroke="#222" stroke-width="0.18" text-anchor="end" >1</text>
<text x="30.80" y="614.80" font-size="8.4" fill="#222" stroke="#222" stroke-width="0.18" text-anchor="end" >2</text>
<line x1="42.60" y1="693.10" x2="42.60" y2="696.40" stroke="#222" stroke-width="1" />
<line x1="53.00" y1="693.10" x2="53.00" y2="696.40" stroke="#222" stroke-width="1" />
<line x1="40.20" y1="652.50" x2="46.80" y2="652.50" stroke="#1d76a2" stroke-width="1.7" />
<rect x="50.10" y="615.30" width="7.0" height="32.90" rx="3.2" fill="#f8a6b6"/>
<circle cx="53.60" cy="615.90" r="1.35" fill="#dc1742" />
<circle cx="53.60" cy="634.20" r="1.35" fill="#dc1742" />
<circle cx="51.60" cy="636.90" r="1.35" fill="#dc1742" />
<circle cx="55.80" cy="637.60" r="1.35" fill="#dc1742" />
<circle cx="51.60" cy="639.00" r="1.35" fill="#dc1742" />
<circle cx="53.60" cy="644.30" r="1.35" fill="#dc1742" />
<circle cx="53.60" cy="649.30" r="1.35" fill="#dc1742" />
<line x1="43.10" y1="612.40" x2="54.00" y2="612.40" stroke="#222" stroke-width="1.1" />
<text x="48.70" y="612.22" font-size="7.6" fill="#222" stroke="#222" stroke-width="0.18" text-anchor="middle" >*</text>
<text x="38.60" y="682.30" font-size="5.8" fill="#222" stroke="#222" stroke-width="0.18" >Basal</text>
<text x="38.60" y="688.80" font-size="5.8" fill="#222" stroke="#222" stroke-width="0.18" >respiration</text>
<line x1="81.80" y1="605.80" x2="81.80" y2="693.60" stroke="#222" stroke-width="1.2" />
<line x1="81.30" y1="693.10" x2="105.00" y2="693.10" stroke="#222" stroke-width="1.2" />
<line x1="79.20" y1="672.80" x2="81.80" y2="672.80" stroke="#222" stroke-width="1" />
<line x1="79.20" y1="652.50" x2="81.80" y2="652.50" stroke="#222" stroke-width="1" />
<line x1="79.20" y1="632.20" x2="81.80" y2="632.20" stroke="#222" stroke-width="1" />
<line x1="79.20" y1="611.90" x2="81.80" y2="611.90" stroke="#222" stroke-width="1" />
<line x1="88.00" y1="693.10" x2="88.00" y2="696.40" stroke="#222" stroke-width="1" />
<line x1="98.40" y1="693.10" x2="98.40" y2="696.40" stroke="#222" stroke-width="1" />
<line x1="85.60" y1="652.50" x2="92.20" y2="652.50" stroke="#1d76a2" stroke-width="1.7" />
<rect x="95.50" y="621.70" width="7.0" height="37.50" rx="3.2" fill="#f8a6b6"/>
<line x1="95.20" y1="642.90" x2="102.80" y2="642.90" stroke="#222" stroke-width="1.0" />
<circle cx="98.70" cy="623.50" r="1.35" fill="#dc1742" />
<circle cx="98.70" cy="626.90" r="1.35" fill="#dc1742" />
<circle cx="96.70" cy="651.00" r="1.35" fill="#dc1742" />
<circle cx="100.20" cy="649.50" r="1.35" fill="#dc1742" />
<circle cx="100.20" cy="653.00" r="1.35" fill="#dc1742" />
<circle cx="98.70" cy="657.70" r="1.35" fill="#dc1742" />
<text x="84.00" y="682.30" font-size="5.8" fill="#222" stroke="#222" stroke-width="0.18" >Maximal</text>
<text x="84.00" y="688.80" font-size="5.8" fill="#222" stroke="#222" stroke-width="0.18" >respiration</text>
<line x1="126.30" y1="605.80" x2="126.30" y2="693.60" stroke="#222" stroke-width="1.2" />
<line x1="125.80" y1="693.10" x2="147.70" y2="693.10" stroke="#222" stroke-width="1.2" />
<line x1="123.70" y1="672.80" x2="126.30" y2="672.80" stroke="#222" stroke-width="1" />
<line x1="123.70" y1="652.50" x2="126.30" y2="652.50" stroke="#222" stroke-width="1" />
<line x1="123.70" y1="632.20" x2="126.30" y2="632.20" stroke="#222" stroke-width="1" />
<line x1="123.70" y1="611.90" x2="126.30" y2="611.90" stroke="#222" stroke-width="1" />
<line x1="132.50" y1="693.10" x2="132.50" y2="696.40" stroke="#222" stroke-width="1" />
<line x1="142.90" y1="693.10" x2="142.90" y2="696.40" stroke="#222" stroke-width="1" />
<line x1="130.10" y1="652.50" x2="136.70" y2="652.50" stroke="#1d76a2" stroke-width="1.7" />
<rect x="140.00" y="617.00" width="7.0" height="31.70" rx="3.2" fill="#f8a6b6"/>
<line x1="139.70" y1="635.00" x2="147.30" y2="635.00" stroke="#222" stroke-width="1.0" />
<circle cx="143.70" cy="618.50" r="1.35" fill="#dc1742" />
<circle cx="141.20" cy="635.50" r="1.35" fill="#dc1742" />
<circle cx="144.90" cy="634.40" r="1.35" fill="#dc1742" />
<circle cx="140.90" cy="647.30" r="1.35" fill="#dc1742" />
<circle cx="144.20" cy="645.00" r="1.35" fill="#dc1742" />
<line x1="133.00" y1="612.40" x2="143.90" y2="612.40" stroke="#222" stroke-width="1.1" />
<text x="138.60" y="612.22" font-size="7.6" fill="#222" stroke="#222" stroke-width="0.18" text-anchor="middle" >*</text>
<text x="128.50" y="682.30" font-size="5.8" fill="#222" stroke="#222" stroke-width="0.18" >ATP</text>
<text x="128.50" y="688.80" font-size="5.8" fill="#222" stroke="#222" stroke-width="0.18" >production</text>
<line x1="190.40" y1="605.80" x2="190.40" y2="693.60" stroke="#222" stroke-width="1.2" />
<line x1="189.90" y1="693.10" x2="214.50" y2="693.10" stroke="#222" stroke-width="1.2" />
<line x1="187.80" y1="672.80" x2="190.40" y2="672.80" stroke="#222" stroke-width="1" />
<line x1="187.80" y1="652.50" x2="190.40" y2="652.50" stroke="#222" stroke-width="1" />
<line x1="187.80" y1="632.20" x2="190.40" y2="632.20" stroke="#222" stroke-width="1" />
<line x1="187.80" y1="611.90" x2="190.40" y2="611.90" stroke="#222" stroke-width="1" />
<text x="184.80" y="696.00" font-size="8.4" fill="#222" stroke="#222" stroke-width="0.18" text-anchor="end" >0</text>
<text x="184.80" y="655.40" font-size="8.4" fill="#222" stroke="#222" stroke-width="0.18" text-anchor="end" >1</text>
<text x="184.80" y="614.80" font-size="8.4" fill="#222" stroke="#222" stroke-width="0.18" text-anchor="end" >2</text>
<line x1="196.60" y1="693.10" x2="196.60" y2="696.40" stroke="#222" stroke-width="1" />
<line x1="207.00" y1="693.10" x2="207.00" y2="696.40" stroke="#222" stroke-width="1" />
<line x1="194.20" y1="652.50" x2="200.80" y2="652.50" stroke="#1d76a2" stroke-width="1.7" />
<rect x="204.10" y="617.90" width="7.0" height="31.70" rx="3.2" fill="#f8a6b6"/>
<line x1="203.80" y1="637.00" x2="211.40" y2="637.00" stroke="#222" stroke-width="1.0" />
<circle cx="207.70" cy="619.50" r="1.35" fill="#dc1742" />
<circle cx="208.20" cy="631.00" r="1.35" fill="#dc1742" />
<circle cx="206.50" cy="636.00" r="1.35" fill="#dc1742" />
<circle cx="209.00" cy="637.00" r="1.35" fill="#dc1742" />
<circle cx="206.00" cy="641.00" r="1.35" fill="#dc1742" />
<circle cx="209.00" cy="643.00" r="1.35" fill="#dc1742" />
<circle cx="207.00" cy="648.00" r="1.35" fill="#dc1742" />
<line x1="197.10" y1="612.40" x2="208.00" y2="612.40" stroke="#222" stroke-width="1.1" />
<text x="202.70" y="612.22" font-size="7.6" fill="#222" stroke="#222" stroke-width="0.18" text-anchor="middle" >*</text>
<text x="192.60" y="682.30" font-size="5.8" fill="#222" stroke="#222" stroke-width="0.18" >Basal</text>
<text x="192.60" y="688.80" font-size="5.8" fill="#222" stroke="#222" stroke-width="0.18" >ECAR</text>
<line x1="221.90" y1="605.80" x2="221.90" y2="693.60" stroke="#222" stroke-width="1.2" />
<line x1="221.40" y1="693.10" x2="244.60" y2="693.10" stroke="#222" stroke-width="1.2" />
<line x1="219.30" y1="672.80" x2="221.90" y2="672.80" stroke="#222" stroke-width="1" />
<line x1="219.30" y1="652.50" x2="221.90" y2="652.50" stroke="#222" stroke-width="1" />
<line x1="219.30" y1="632.20" x2="221.90" y2="632.20" stroke="#222" stroke-width="1" />
<line x1="219.30" y1="611.90" x2="221.90" y2="611.90" stroke="#222" stroke-width="1" />
<line x1="228.10" y1="693.10" x2="228.10" y2="696.40" stroke="#222" stroke-width="1" />
<line x1="238.50" y1="693.10" x2="238.50" y2="696.40" stroke="#222" stroke-width="1" />
<line x1="225.70" y1="652.50" x2="232.30" y2="652.50" stroke="#1d76a2" stroke-width="1.7" />
<rect x="235.60" y="637.00" width="7.0" height="15.50" rx="3.2" fill="#f8a6b6"/>
<line x1="235.30" y1="645.50" x2="242.90" y2="645.50" stroke="#222" stroke-width="1.0" />
<circle cx="239.20" cy="638.70" r="1.35" fill="#dc1742" />
<circle cx="238.00" cy="642.50" r="1.35" fill="#dc1742" />
<circle cx="240.50" cy="645.00" r="1.35" fill="#dc1742" />
<circle cx="239.20" cy="646.00" r="1.35" fill="#dc1742" />
<circle cx="237.00" cy="650.00" r="1.35" fill="#dc1742" />
<circle cx="240.20" cy="650.50" r="1.35" fill="#dc1742" />
<line x1="228.60" y1="612.40" x2="239.50" y2="612.40" stroke="#222" stroke-width="1.1" />
<text x="234.30" y="609.89" font-size="7.8" fill="#222" stroke="#222" stroke-width="0.18" text-anchor="middle" font-style="italic" textLength="20.50" lengthAdjust="spacingAndGlyphs" >p&lt;.07</text>
<text x="224.10" y="682.30" font-size="5.8" fill="#222" stroke="#222" stroke-width="0.18" >Glycolytic</text>
<text x="224.10" y="688.80" font-size="5.8" fill="#222" stroke="#222" stroke-width="0.18" >capacity</text>
<line x1="37.50" y1="702.60" x2="245.50" y2="702.60" stroke="#555" stroke-width="1.4" />
<text x="47.70" y="713.91" font-size="9.3" fill="#222" stroke="#222" stroke-width="0.18" textLength="46.10" lengthAdjust="spacingAndGlyphs" >KARPAS-422</text>
<rect x="132.70" y="708.70" width="4.60" height="4.80" fill="#1d76a2" />
<text x="140.40" y="714.11" font-size="9.3" fill="#222" stroke="#222" stroke-width="0.18" textLength="33.60" lengthAdjust="spacingAndGlyphs" >Wild-type</text>
<rect x="180.80" y="708.70" width="4.60" height="4.80" fill="#dc1742" />
<text x="189.4" y="714.2" font-size="9.0" fill="#222" stroke="#222" stroke-width="0.18" textLength="20.2" lengthAdjust="spacingAndGlyphs">PUMA</text>
<text x="210.6" y="708.8" font-size="5.2" fill="#222" textLength="8.6" lengthAdjust="spacingAndGlyphs">&#8722;/&#8722;</text>
<text x="270.10" y="602.40" font-size="11.92" font-weight="bold" fill="#000" stroke="#000" stroke-width="0.35" textLength="7.80" lengthAdjust="spacingAndGlyphs">K</text>
<text x="288.10" y="650.50" font-size="9.0" fill="#222" stroke="#222" stroke-width="0.18" text-anchor="middle" textLength="91.60" lengthAdjust="spacingAndGlyphs" transform="rotate(-90 288.10 647.40)" >Relative OCR (pmoles/min)</text>
<text x="441.50" y="652.31" font-size="9.0" fill="#222" stroke="#222" stroke-width="0.18" text-anchor="middle" textLength="88.00" lengthAdjust="spacingAndGlyphs" transform="rotate(-90 441.50 649.20)" >Relative ECAR (mpH/min)</text>
<line x1="307.40" y1="605.80" x2="307.40" y2="693.60" stroke="#222" stroke-width="1.2" />
<line x1="306.90" y1="693.10" x2="331.70" y2="693.10" stroke="#222" stroke-width="1.2" />
<line x1="304.80" y1="672.80" x2="307.40" y2="672.80" stroke="#222" stroke-width="1" />
<line x1="304.80" y1="652.50" x2="307.40" y2="652.50" stroke="#222" stroke-width="1" />
<line x1="304.80" y1="632.20" x2="307.40" y2="632.20" stroke="#222" stroke-width="1" />
<line x1="304.80" y1="611.90" x2="307.40" y2="611.90" stroke="#222" stroke-width="1" />
<text x="301.80" y="696.00" font-size="8.4" fill="#222" stroke="#222" stroke-width="0.18" text-anchor="end" >0</text>
<text x="301.80" y="655.40" font-size="8.4" fill="#222" stroke="#222" stroke-width="0.18" text-anchor="end" >1</text>
<text x="301.80" y="614.80" font-size="8.4" fill="#222" stroke="#222" stroke-width="0.18" text-anchor="end" >2</text>
<line x1="313.60" y1="693.10" x2="313.60" y2="696.40" stroke="#222" stroke-width="1" />
<line x1="324.00" y1="693.10" x2="324.00" y2="696.40" stroke="#222" stroke-width="1" />
<line x1="311.20" y1="652.50" x2="317.80" y2="652.50" stroke="#1c7aa0" stroke-width="1.7" />
<circle cx="323.00" cy="642.00" r="1.45" fill="#dc1742" />
<circle cx="326.10" cy="644.20" r="1.45" fill="#dc1742" />
<circle cx="322.80" cy="646.50" r="1.45" fill="#dc1742" />
<circle cx="324.10" cy="644.40" r="1.45" fill="#dc1742" />
<line x1="314.10" y1="612.40" x2="325.00" y2="612.40" stroke="#222" stroke-width="1.1" />
<text x="319.70" y="612.22" font-size="7.6" fill="#222" stroke="#222" stroke-width="0.18" text-anchor="middle" >*</text>
<text x="309.60" y="682.30" font-size="5.8" fill="#222" stroke="#222" stroke-width="0.18" >Basal</text>
<text x="309.60" y="688.80" font-size="5.8" fill="#222" stroke="#222" stroke-width="0.18" >respiration</text>
<line x1="352.90" y1="605.80" x2="352.90" y2="693.60" stroke="#222" stroke-width="1.2" />
<line x1="352.40" y1="693.10" x2="376.20" y2="693.10" stroke="#222" stroke-width="1.2" />
<line x1="350.30" y1="672.80" x2="352.90" y2="672.80" stroke="#222" stroke-width="1" />
<line x1="350.30" y1="652.50" x2="352.90" y2="652.50" stroke="#222" stroke-width="1" />
<line x1="350.30" y1="632.20" x2="352.90" y2="632.20" stroke="#222" stroke-width="1" />
<line x1="350.30" y1="611.90" x2="352.90" y2="611.90" stroke="#222" stroke-width="1" />
<line x1="359.10" y1="693.10" x2="359.10" y2="696.40" stroke="#222" stroke-width="1" />
<line x1="369.50" y1="693.10" x2="369.50" y2="696.40" stroke="#222" stroke-width="1" />
<line x1="356.70" y1="652.50" x2="363.30" y2="652.50" stroke="#1c7aa0" stroke-width="1.7" />
<circle cx="368.10" cy="636.50" r="1.45" fill="#dc1742" />
<circle cx="371.20" cy="638.70" r="1.45" fill="#dc1742" />
<circle cx="367.90" cy="641.00" r="1.45" fill="#dc1742" />
<circle cx="369.20" cy="638.90" r="1.45" fill="#dc1742" />
<line x1="359.60" y1="612.40" x2="370.50" y2="612.40" stroke="#222" stroke-width="1.1" />
<text x="365.20" y="612.22" font-size="7.6" fill="#222" stroke="#222" stroke-width="0.18" text-anchor="middle" >*</text>
<text x="355.10" y="682.30" font-size="5.8" fill="#222" stroke="#222" stroke-width="0.18" >Maximal</text>
<text x="355.10" y="688.80" font-size="5.8" fill="#222" stroke="#222" stroke-width="0.18" >respiration</text>
<line x1="397.10" y1="605.80" x2="397.10" y2="693.60" stroke="#222" stroke-width="1.2" />
<line x1="396.60" y1="693.10" x2="415.30" y2="693.10" stroke="#222" stroke-width="1.2" />
<line x1="394.50" y1="672.80" x2="397.10" y2="672.80" stroke="#222" stroke-width="1" />
<line x1="394.50" y1="652.50" x2="397.10" y2="652.50" stroke="#222" stroke-width="1" />
<line x1="394.50" y1="632.20" x2="397.10" y2="632.20" stroke="#222" stroke-width="1" />
<line x1="394.50" y1="611.90" x2="397.10" y2="611.90" stroke="#222" stroke-width="1" />
<line x1="403.30" y1="693.10" x2="403.30" y2="696.40" stroke="#222" stroke-width="1" />
<line x1="413.70" y1="693.10" x2="413.70" y2="696.40" stroke="#222" stroke-width="1" />
<line x1="400.90" y1="652.50" x2="407.50" y2="652.50" stroke="#1c7aa0" stroke-width="1.7" />
<circle cx="412.60" cy="642.90" r="1.45" fill="#dc1742" />
<circle cx="415.70" cy="645.10" r="1.45" fill="#dc1742" />
<circle cx="412.40" cy="647.40" r="1.45" fill="#dc1742" />
<circle cx="413.70" cy="645.30" r="1.45" fill="#dc1742" />
<line x1="403.80" y1="612.40" x2="414.70" y2="612.40" stroke="#222" stroke-width="1.1" />
<text x="409.40" y="612.22" font-size="7.6" fill="#222" stroke="#222" stroke-width="0.18" text-anchor="middle" >*</text>
<text x="399.30" y="682.30" font-size="5.8" fill="#222" stroke="#222" stroke-width="0.18" >ATP</text>
<text x="399.30" y="688.80" font-size="5.8" fill="#222" stroke="#222" stroke-width="0.18" >production</text>
<line x1="461.30" y1="605.80" x2="461.30" y2="693.60" stroke="#222" stroke-width="1.2" />
<line x1="460.80" y1="693.10" x2="485.10" y2="693.10" stroke="#222" stroke-width="1.2" />
<line x1="458.70" y1="672.80" x2="461.30" y2="672.80" stroke="#222" stroke-width="1" />
<line x1="458.70" y1="652.50" x2="461.30" y2="652.50" stroke="#222" stroke-width="1" />
<line x1="458.70" y1="632.20" x2="461.30" y2="632.20" stroke="#222" stroke-width="1" />
<line x1="458.70" y1="611.90" x2="461.30" y2="611.90" stroke="#222" stroke-width="1" />
<text x="455.70" y="696.00" font-size="8.4" fill="#222" stroke="#222" stroke-width="0.18" text-anchor="end" >0</text>
<text x="455.70" y="655.40" font-size="8.4" fill="#222" stroke="#222" stroke-width="0.18" text-anchor="end" >1</text>
<text x="455.70" y="614.80" font-size="8.4" fill="#222" stroke="#222" stroke-width="0.18" text-anchor="end" >2</text>
<line x1="467.50" y1="693.10" x2="467.50" y2="696.40" stroke="#222" stroke-width="1" />
<line x1="477.90" y1="693.10" x2="477.90" y2="696.40" stroke="#222" stroke-width="1" />
<line x1="465.10" y1="652.50" x2="471.70" y2="652.50" stroke="#1c7aa0" stroke-width="1.7" />
<circle cx="477.00" cy="640.70" r="1.45" fill="#dc1742" />
<circle cx="480.10" cy="642.90" r="1.45" fill="#dc1742" />
<circle cx="476.80" cy="645.20" r="1.45" fill="#dc1742" />
<circle cx="478.10" cy="643.10" r="1.45" fill="#dc1742" />
<line x1="468.00" y1="612.40" x2="478.90" y2="612.40" stroke="#222" stroke-width="1.1" />
<text x="473.60" y="612.22" font-size="7.6" fill="#222" stroke="#222" stroke-width="0.18" text-anchor="middle" >*</text>
<text x="463.50" y="682.30" font-size="5.8" fill="#222" stroke="#222" stroke-width="0.18" >Basal</text>
<text x="463.50" y="688.80" font-size="5.8" fill="#222" stroke="#222" stroke-width="0.18" >ECAR</text>
<line x1="492.70" y1="605.80" x2="492.70" y2="693.60" stroke="#222" stroke-width="1.2" />
<line x1="492.20" y1="693.10" x2="516.80" y2="693.10" stroke="#222" stroke-width="1.2" />
<line x1="490.10" y1="672.80" x2="492.70" y2="672.80" stroke="#222" stroke-width="1" />
<line x1="490.10" y1="652.50" x2="492.70" y2="652.50" stroke="#222" stroke-width="1" />
<line x1="490.10" y1="632.20" x2="492.70" y2="632.20" stroke="#222" stroke-width="1" />
<line x1="490.10" y1="611.90" x2="492.70" y2="611.90" stroke="#222" stroke-width="1" />
<line x1="498.90" y1="693.10" x2="498.90" y2="696.40" stroke="#222" stroke-width="1" />
<line x1="509.30" y1="693.10" x2="509.30" y2="696.40" stroke="#222" stroke-width="1" />
<line x1="496.50" y1="652.50" x2="503.10" y2="652.50" stroke="#1c7aa0" stroke-width="1.7" />
<circle cx="508.40" cy="638.40" r="1.45" fill="#dc1742" />
<circle cx="511.50" cy="640.60" r="1.45" fill="#dc1742" />
<circle cx="508.20" cy="642.90" r="1.45" fill="#dc1742" />
<circle cx="509.50" cy="640.80" r="1.45" fill="#dc1742" />
<line x1="499.40" y1="612.40" x2="510.30" y2="612.40" stroke="#222" stroke-width="1.1" />
<text x="505.00" y="612.22" font-size="7.6" fill="#222" stroke="#222" stroke-width="0.18" text-anchor="middle" >*</text>
<text x="494.90" y="682.30" font-size="5.8" fill="#222" stroke="#222" stroke-width="0.18" >Glycolytic</text>
<text x="494.90" y="688.80" font-size="5.8" fill="#222" stroke="#222" stroke-width="0.18" >capacity</text>
<line x1="307.40" y1="702.60" x2="520.00" y2="702.60" stroke="#555" stroke-width="1.4" />
<text x="324.60" y="713.91" font-size="9.3" fill="#222" stroke="#222" stroke-width="0.18" textLength="34.20" lengthAdjust="spacingAndGlyphs" >OSU-CLL</text>
<rect x="403.80" y="708.70" width="4.60" height="4.80" fill="#1c7aa0" />
<text x="412.00" y="714.11" font-size="9.3" fill="#222" stroke="#222" stroke-width="0.18" textLength="33.60" lengthAdjust="spacingAndGlyphs" >Wild-type</text>
<rect x="452.50" y="708.70" width="4.60" height="4.80" fill="#dc1742" />
<text x="460.6" y="714.2" font-size="9.0" fill="#222" stroke="#222" stroke-width="0.18" textLength="21.5" lengthAdjust="spacingAndGlyphs">PUMA</text>
<text x="482.8" y="708.8" font-size="5.2" fill="#222" textLength="8.6" lengthAdjust="spacingAndGlyphs">&#8722;/&#8722;</text>
</svg></body></html>
